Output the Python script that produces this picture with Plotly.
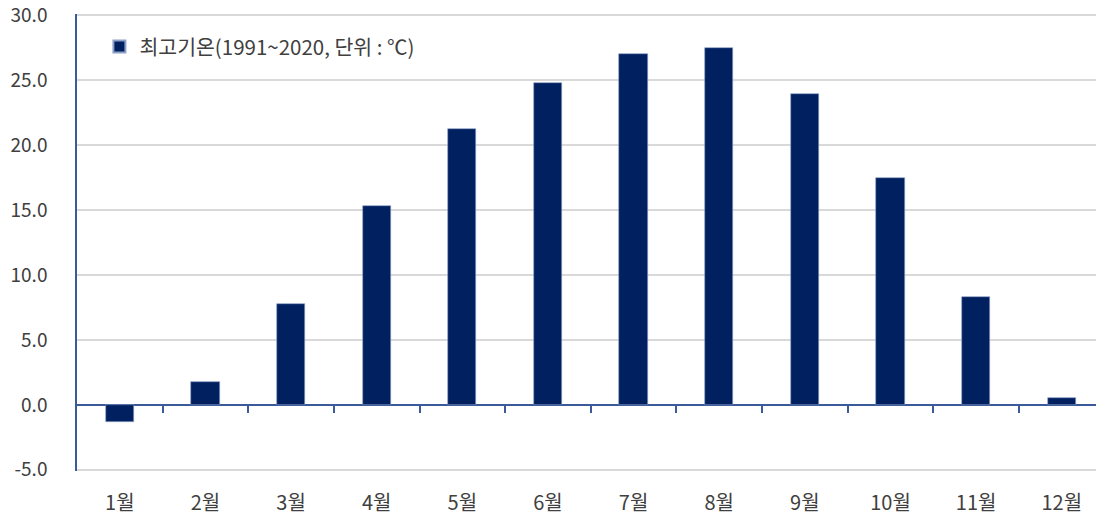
import plotly.graph_objects as go

months = ["1월", "2월", "3월", "4월", "5월", "6월", "7월", "8월", "9월", "10월", "11월", "12월"]
max_temp = [-1.3, 1.8, 7.8, 15.3, 21.2, 24.8, 27.0, 27.5, 23.9, 17.5, 8.3, 0.5]
y_ticks = [-5, 0, 5, 10, 15, 20, 25, 30]
y_ticktext = ["-5.0", "0.0", "5.0", "10.0", "15.0", "20.0", "25.0", "30.0"]
series_name = "최고기온(1991~2020, 단위 : ℃)"

x_pos = list(range(len(months)))
boundaries = [i + 0.5 for i in range(len(months) - 1)]

FONT = "Noto Sans CJK KR"
NAVY = "#002060"
AXIS_BLUE = "#3A5A9A"
X_RANGE = [-0.5, 11.40]
Y_RANGE = [-5.09, 30.09]

fig = go.Figure()
fig.add_trace(go.Bar(
    x=x_pos, y=max_temp, name=series_name,
    marker=dict(color=NAVY, line=dict(color="#8DA0C8", width=0.6)),
    width=0.33, showlegend=True,
))
# invisible helper trace so the category-boundary tick axis is drawn on the zero line
fig.add_trace(go.Scatter(
    x=boundaries, y=[0] * len(boundaries), mode="none", xaxis="x2",
    showlegend=False, hoverinfo="skip",
))

fig.update_layout(
    width=1096, height=518,
    margin=dict(l=77, r=0, t=14, b=47),
    paper_bgcolor="white", plot_bgcolor="white",
    font=dict(family=FONT, size=20, color="#404040"),
    showlegend=True,
    legend=dict(x=0.022, y=0.972, xanchor="left", yanchor="top",
                bgcolor="rgba(0,0,0,0)", font=dict(size=20.5, color="#404040"),
                itemsizing="constant"),
    xaxis=dict(
        range=X_RANGE, tickmode="array", tickvals=x_pos, ticktext=months,
        showgrid=False, zeroline=False, showline=False, automargin=False,
        ticks="outside", ticklen=14, tickcolor="rgba(0,0,0,0)",
        ticklabeloverflow="allow",
        tickfont=dict(size=20, color="#404040"),
    ),
    xaxis2=dict(
        overlaying="x", anchor="free",
        position=(0 - Y_RANGE[0]) / (Y_RANGE[1] - Y_RANGE[0]),
        range=X_RANGE, tickmode="array", tickvals=boundaries,
        showticklabels=False, showgrid=False, zeroline=False, showline=False,
        ticks="outside", ticklen=7, tickwidth=1.5, tickcolor=AXIS_BLUE,
        automargin=False,
    ),
    yaxis=dict(
        range=Y_RANGE, tickmode="array", tickvals=y_ticks, ticktext=y_ticktext,
        showgrid=True, gridcolor="#D9D9D9", gridwidth=1.5,
        zeroline=True, zerolinecolor=AXIS_BLUE, zerolinewidth=1.5,
        showline=True, linecolor=AXIS_BLUE, linewidth=1.5, automargin=False,
        ticks="outside", ticklen=24, tickcolor="rgba(0,0,0,0)",
        ticklabeloverflow="allow",
        tickfont=dict(size=19, color="#404040"),
    ),
    bargap=0,
)

fig.write_html("out.html", config={"displayModeBar": False},
               post_script="document.body.style.margin='0';")
